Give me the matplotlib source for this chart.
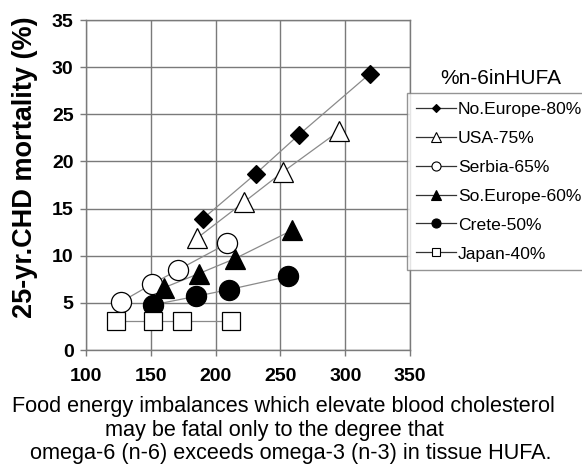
import matplotlib.pyplot as plt

plt.rcParams['font.family'] = ['Liberation Sans', 'DejaVu Sans']

# n-6 HUFA groups: x = food energy imbalance, y = 25-yr CHD mortality (%)
no_europe_x = [190, 231, 264, 319]
no_europe_y = [13.9, 18.7, 22.8, 29.3]
usa_x = [186, 222, 252, 295]
usa_y = [11.9, 15.7, 18.9, 23.2]
serbia_x = [127, 151, 171, 209]
serbia_y = [5.1, 7.0, 8.5, 11.3]
so_europe_x = [160, 187, 215, 259]
so_europe_y = [6.6, 8.1, 9.7, 12.7]
crete_x = [152, 185, 210, 256]
crete_y = [4.8, 5.7, 6.4, 7.8]
japan_x = [123, 152, 174, 212]
japan_y = [3.1, 3.1, 3.1, 3.1]

labels = ['No.Europe-80%', 'USA-75%', 'Serbia-65%', 'So.Europe-60%', 'Crete-50%', 'Japan-40%']
x_ticks = [100, 150, 200, 250, 300, 350]
y_ticks = [0, 5, 10, 15, 20, 25, 30, 35]

series = [
    (no_europe_x, no_europe_y, 'D', 'black', 9.5),
    (usa_x, usa_y, '^', 'white', 15),
    (serbia_x, serbia_y, 'o', 'white', 14.5),
    (so_europe_x, so_europe_y, '^', 'black', 15),
    (crete_x, crete_y, 'o', 'black', 14.5),
    (japan_x, japan_y, 's', 'white', 13),
]

fig = plt.figure(figsize=(5.82, 4.69), dpi=100)
ax = fig.add_axes([0.1478, 0.2537, 0.5567, 0.7036])

# connecting lines first, markers on top
for xs, ys, m, fc, ms in series:
    ax.plot(xs, ys, color='#8a8a8a', lw=0.9, zorder=2)
    ax.plot(xs, ys, ls='none', marker=m, ms=ms, mfc=fc, mec='black', mew=0.9, zorder=3)

# small proxy handles for the legend
handles = []
for xs, ys, m, fc, ms in series:
    h, = ax.plot([], [], color='#333333', lw=0.9, marker=m, ms=ms * 0.45,
                 mfc=fc, mec='black', mew=0.8)
    handles.append(h)

ax.set_xlim(100, 350)
ax.set_ylim(0, 35)
ax.set_xticks(x_ticks)
ax.set_yticks(y_ticks)
ax.grid(True, color='#7a7a7a', lw=1.0)
ax.set_axisbelow(True)
for s in ax.spines.values():
    s.set_color('#7a7a7a')
    s.set_linewidth(1.0)
ax.tick_params(axis='both', direction='out', length=4, width=1, color='#7a7a7a',
               labelsize=14)
ax.tick_params(axis='x', pad=9)
ax.tick_params(axis='y', pad=5)
for t in ax.get_xticklabels() + ax.get_yticklabels():
    t.set_fontweight('bold')

fig.text(25 / 582, 0.643, '25-yr.CHD mortality (%)', rotation=90, fontsize=19.5,
         fontweight='bold', ha='center', va='center')

leg = fig.legend(handles, labels, loc='upper left', bbox_to_anchor=(407 / 582, 1 - 93 / 469),
                 fontsize=12.6, frameon=True, fancybox=False, edgecolor='#7a7a7a',
                 handlelength=2.3, handletextpad=0.1, labelspacing=0.78,
                 borderpad=0.5, borderaxespad=0)
leg.get_frame().set_linewidth(1.0)
fig.text(501 / 582, 1 - 79 / 469, '%n-6inHUFA', fontsize=15, ha='center', va='center')

# caption below the axis, three lines at their own baselines
fig.text(283.5 / 582, 1 - 412 / 469, 'Food energy imbalances which elevate blood cholesterol',
         fontsize=15.6, ha='center', va='baseline')
fig.text(274.5 / 582, 1 - 435.5 / 469, 'may be fatal only to the degree that',
         fontsize=15.6, ha='center', va='baseline')
fig.text(291 / 582, 1 - 459 / 469, 'omega-6 (n-6) exceeds omega-3 (n-3) in tissue HUFA.',
         fontsize=15.6, ha='center', va='baseline')

fig.savefig('out.png', dpi=100)
